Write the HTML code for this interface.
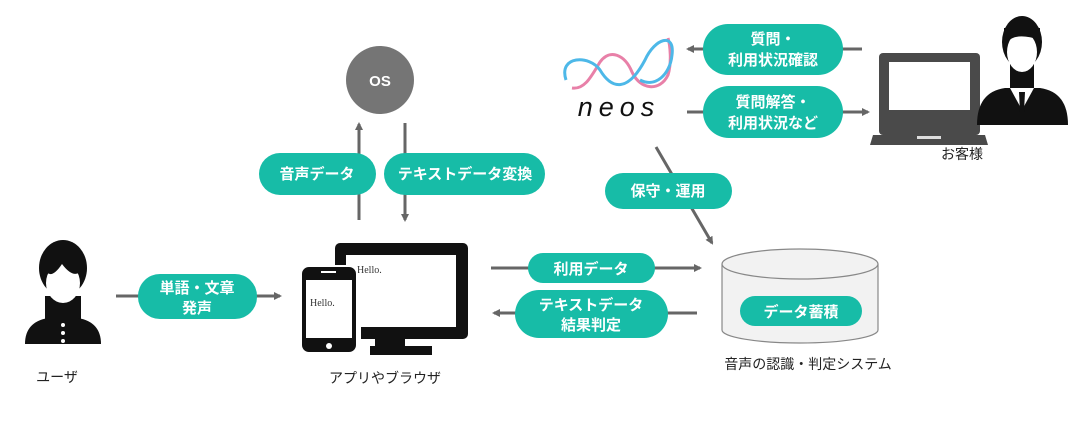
<!DOCTYPE html>
<html><head><meta charset="utf-8"><style>
body{margin:0;background:#fff;}
svg text{font-family:"Liberation Sans","Noto Sans CJK JP",sans-serif;}
svg text.serif{font-family:"Liberation Serif",serif;}
.p{fill:#17bca7}
.pt{fill:#fff;font-weight:bold;font-size:15px;text-anchor:middle}
.l{stroke:#666;stroke-width:3;fill:none}
.lb{fill:#222;font-size:14px;text-anchor:middle}
</style></head><body>
<svg width="1090" height="430" viewBox="0 0 1090 430" xmlns="http://www.w3.org/2000/svg">
<defs><marker id="a" markerWidth="8" markerHeight="8" refX="6" refY="4" orient="auto" markerUnits="userSpaceOnUse"><path d="M0,0 L8,4 L0,8 z" fill="#666"/></marker></defs>

<!-- OS -->
<circle cx="380" cy="80" r="34" fill="#757575"/>
<text x="380" y="86" class="pt" font-size="16">OS</text>
<line x1="359" y1="220" x2="359" y2="124" class="l" marker-end="url(#a)"/>
<line x1="405" y1="123" x2="405" y2="220" class="l" marker-end="url(#a)"/>
<rect x="259" y="153" width="117" height="42" rx="21" class="p"/>
<text x="317" y="179" class="pt">音声データ</text>
<rect x="384" y="153" width="161" height="42" rx="21" class="p"/>
<text x="465" y="179" class="pt">テキストデータ変換</text>

<!-- monitor & phone -->
<rect x="335" y="243" width="133" height="96" rx="5" fill="#111"/>
<rect x="346" y="255" width="110" height="72" fill="#fff"/>
<rect x="375" y="339" width="30" height="10" fill="#111"/>
<rect x="370" y="346" width="62" height="9" fill="#111"/>
<rect x="354" y="270" width="7" height="75" fill="#fff"/>
<text x="357" y="273" class="serif" font-size="10" fill="#333">Hello.</text>
<rect x="301" y="266" width="56" height="87" rx="8" fill="#111" stroke="#fff" stroke-width="2"/>
<rect x="306" y="280" width="46" height="58" fill="#fff"/>
<rect x="321" y="271" width="15" height="2" fill="#fff"/>
<circle cx="329" cy="346" r="3" fill="#fff"/>
<text x="310" y="306" class="serif" font-size="10" fill="#333">Hello.</text>
<text x="385" y="383" class="lb">アプリやブラウザ</text>

<!-- user -->
<g fill="#111">
<ellipse cx="63" cy="268" rx="24" ry="28"/>
<rect x="45" y="296" width="36" height="25"/>
<path d="M25,344 Q25,322 48,318 L78,318 Q101,322 101,344 Z"/>
</g>
<ellipse cx="63" cy="283" rx="17" ry="20" fill="#fff"/>
<path d="M44,268 Q50,282 62,264 Q74,280 82,270 L82,260 L44,260 Z" fill="#111"/>
<circle cx="63" cy="325" r="2" fill="#fff"/><circle cx="63" cy="333" r="2" fill="#fff"/><circle cx="63" cy="341" r="2" fill="#fff"/>
<text x="57" y="382" class="lb">ユーザ</text>
<line x1="116" y1="296" x2="280" y2="296" class="l" marker-end="url(#a)"/>
<rect x="138" y="274" width="119" height="45" rx="22" class="p"/>
<text x="197" y="293" class="pt">単語・文章</text>
<text x="197" y="313" class="pt">発声</text>

<!-- middle arrows -->
<line x1="491" y1="268" x2="700" y2="268" class="l" marker-end="url(#a)"/>
<rect x="528" y="253" width="127" height="30" rx="15" class="p"/>
<text x="591" y="274" class="pt">利用データ</text>
<line x1="697" y1="313" x2="494" y2="313" class="l" marker-end="url(#a)"/>
<rect x="515" y="290" width="153" height="48" rx="24" class="p"/>
<text x="591" y="310" class="pt">テキストデータ</text>
<text x="591" y="330" class="pt">結果判定</text>

<!-- cylinder -->
<path d="M722,264 L722,330 A78,13 0 0 0 878,330 L878,264" fill="#f2f2f2" stroke="#888" stroke-width="1.2"/>
<ellipse cx="800" cy="264" rx="78" ry="15" fill="#f2f2f2" stroke="#888" stroke-width="1.2"/>
<rect x="740" y="296" width="122" height="30" rx="15" class="p"/>
<text x="801" y="317" class="pt">データ蓄積</text>
<text x="808" y="369" class="lb">音声の認識・判定システム</text>

<!-- neos -->
<path d="M572,88 C585,90 592,75 600,62 C610,48 625,55 632,72 C640,90 660,92 668,75 C672,62 670,45 668,38" fill="none" stroke="#e880a8" stroke-width="3"/>
<path d="M566,80 C558,55 590,55 600,70 C612,90 628,92 645,60 C655,38 675,32 672,55 C670,75 655,88 640,80" fill="none" stroke="#4db8e8" stroke-width="3"/>
<text x="619" y="116" font-style="italic" font-size="27" letter-spacing="6" text-anchor="middle" fill="#111">neos</text>
<line x1="656" y1="147" x2="712" y2="243" class="l" marker-end="url(#a)"/>
<rect x="605" y="173" width="127" height="36" rx="18" class="p"/>
<text x="668" y="196" class="pt">保守・運用</text>

<!-- top arrows -->
<line x1="862" y1="49" x2="688" y2="49" class="l" marker-end="url(#a)"/>
<rect x="703" y="24" width="140" height="51" rx="25" class="p"/>
<text x="773" y="44" class="pt">質問・</text>
<text x="773" y="65" class="pt">利用状況確認</text>
<line x1="687" y1="112" x2="868" y2="112" class="l" marker-end="url(#a)"/>
<rect x="703" y="86" width="140" height="52" rx="26" class="p"/>
<text x="773" y="107" class="pt">質問解答・</text>
<text x="773" y="128" class="pt">利用状況など</text>

<!-- laptop -->
<rect x="879" y="53" width="101" height="82" rx="4" fill="#4a4a4a"/>
<rect x="889" y="62" width="81" height="48" fill="#fff"/>
<path d="M873,135 L985,135 L988,145 L870,145 Z" fill="#4a4a4a"/>
<rect x="917" y="136" width="24" height="3" fill="#ddd"/>
<!-- customer -->
<g fill="#111">
<ellipse cx="1022" cy="42" rx="20" ry="26"/>
<path d="M977,125 Q977,92 1005,88 L1040,88 Q1068,92 1068,125 Z"/>
<rect x="1010" y="64" width="24" height="26"/>
</g>
<ellipse cx="1022" cy="52" rx="15" ry="20" fill="#fff"/>
<path d="M1004,48 Q1010,30 1040,40 L1040,28 L1004,28 Z" fill="#111"/>
<path d="M1010,88 L1022,110 L1034,88 Z" fill="#fff"/>
<path d="M1019,92 L1025,92 L1024,112 L1020,112 Z" fill="#111"/>
<text x="962" y="159" class="lb">お客様</text>
</svg>
</body></html>
